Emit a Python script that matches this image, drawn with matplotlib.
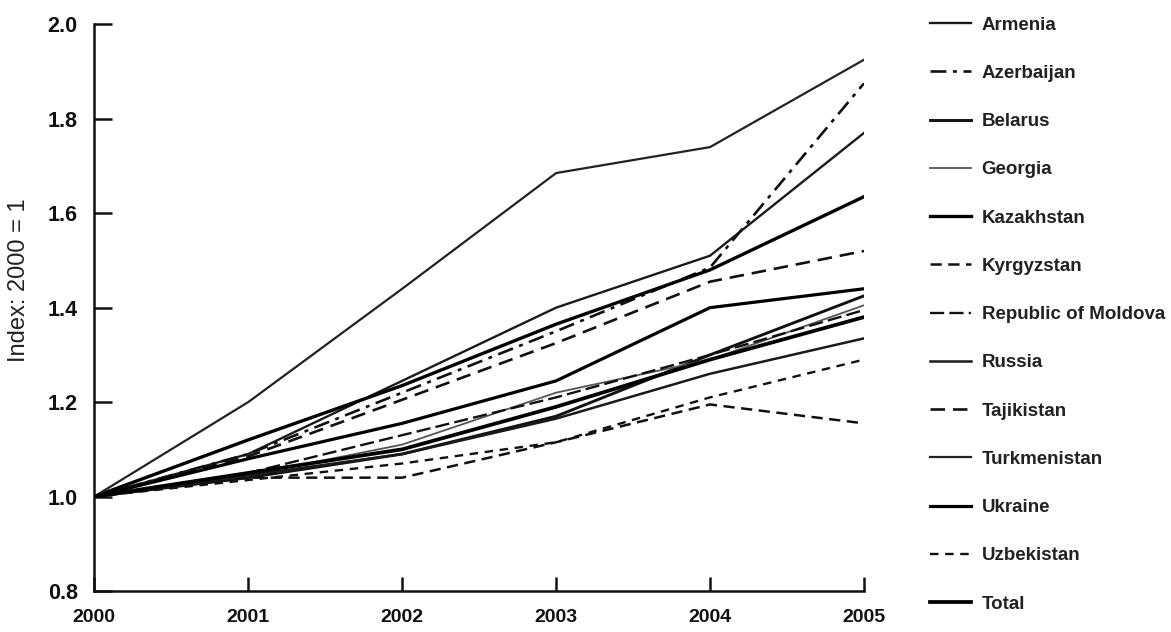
import matplotlib
matplotlib.use("Agg")
import matplotlib.pyplot as plt

years = [2000, 2001, 2002, 2003, 2004, 2005]

countries = ["Armenia", "Azerbaijan", "Belarus", "Georgia", "Kazakhstan",
             "Kyrgyzstan", "Republic of Moldova", "Russia", "Tajikistan",
             "Turkmenistan", "Ukraine", "Uzbekistan", "Total"]

armenia      = [1.00, 1.09, 1.245, 1.40, 1.51, 1.77]
azerbaijan   = [1.00, 1.09, 1.22, 1.35, 1.485, 1.875]
belarus      = [1.00, 1.04, 1.09, 1.17, 1.30, 1.425]
georgia      = [1.00, 1.045, 1.11, 1.22, 1.29, 1.405]
kazakhstan   = [1.00, 1.12, 1.235, 1.365, 1.48, 1.635]
kyrgyzstan   = [1.00, 1.04, 1.04, 1.115, 1.195, 1.155]
moldova      = [1.00, 1.05, 1.13, 1.21, 1.30, 1.395]
russia       = [1.00, 1.045, 1.09, 1.165, 1.26, 1.335]
tajikistan   = [1.00, 1.085, 1.205, 1.325, 1.455, 1.52]
turkmenistan = [1.00, 1.20, 1.44, 1.685, 1.74, 1.925]
ukraine      = [1.00, 1.08, 1.155, 1.245, 1.40, 1.44]
uzbekistan   = [1.00, 1.035, 1.07, 1.115, 1.21, 1.29]
total        = [1.00, 1.05, 1.10, 1.19, 1.29, 1.38]

series = [armenia, azerbaijan, belarus, georgia, kazakhstan, kyrgyzstan,
          moldova, russia, tajikistan, turkmenistan, ukraine, uzbekistan, total]

styles = [
    dict(color="#1a1a1a", lw=1.7, ls="-"),
    dict(color="#111111", lw=1.9, ls=(0, (6, 2.5, 1.5, 2.5))),
    dict(color="#111111", lw=2.1, ls="-"),
    dict(color="#555555", lw=1.3, ls="-"),
    dict(color="#000000", lw=2.4, ls="-"),
    dict(color="#111111", lw=1.8, ls=(0, (4.5, 2.6))),
    dict(color="#111111", lw=1.7, ls=(0, (6, 2.2))),
    dict(color="#1a1a1a", lw=1.8, ls="-"),
    dict(color="#111111", lw=1.9, ls=(0, (5.5, 3))),
    dict(color="#222222", lw=1.6, ls="-"),
    dict(color="#000000", lw=2.3, ls="-"),
    dict(color="#111111", lw=1.7, ls=(0, (3.6, 2.8))),
    dict(color="#000000", lw=2.7, ls="-"),
]

plt.rcParams["font.family"] = ["Liberation Sans", "DejaVu Sans"]

fig = plt.figure(figsize=(11.71, 6.32), dpi=100)
ax = fig.add_axes([94.3 / 1171, 1 - 591 / 632, (864 - 94.3) / 1171, (591 - 24.3) / 632])

for name, vals, st in zip(countries, series, styles):
    ax.plot(years, vals, label=name, color=st["color"], linewidth=st["lw"],
            linestyle=st["ls"], solid_joinstyle="miter", dash_capstyle="butt")

ax.set_xlim(2000, 2005)
ax.set_ylim(0.8, 2.0)
ax.set_xticks(years)
ax.set_xticklabels([str(y) for y in years])
yt = [0.8, 1.0, 1.2, 1.4, 1.6, 1.8, 2.0]
ax.set_yticks(yt)
ax.set_yticklabels([f"{v:.1f}" for v in yt])

for s in ["top", "right"]:
    ax.spines[s].set_visible(False)
for s in ["left", "bottom"]:
    ax.spines[s].set_linewidth(1.8)
    ax.spines[s].set_color("#111111")

ax.tick_params(axis="y", direction="in", length=13, width=1.8, pad=12,
               labelsize=15.5, colors="#111111")
ax.tick_params(axis="x", direction="in", length=10, width=1.8, pad=13,
               labelsize=14, colors="#111111")
for lab in ax.get_xticklabels() + ax.get_yticklabels():
    lab.set_fontweight("bold")

ax.set_ylabel("Index: 2000 = 1", fontsize=17, color="#222222")
ax.yaxis.set_label_coords(-0.083, 0.549)

leg = fig.legend(loc="upper left", bbox_to_anchor=(930 / 1171, 1 - 16.5 / 632),
                 frameon=False, borderpad=0, borderaxespad=0,
                 handlelength=2.2, handletextpad=0.55, labelspacing=1.66,
                 prop=dict(family="Liberation Sans", weight="bold", size=13.5))
for t in leg.get_texts():
    t.set_color("#222222")

fig.savefig("out.png", dpi=100)
